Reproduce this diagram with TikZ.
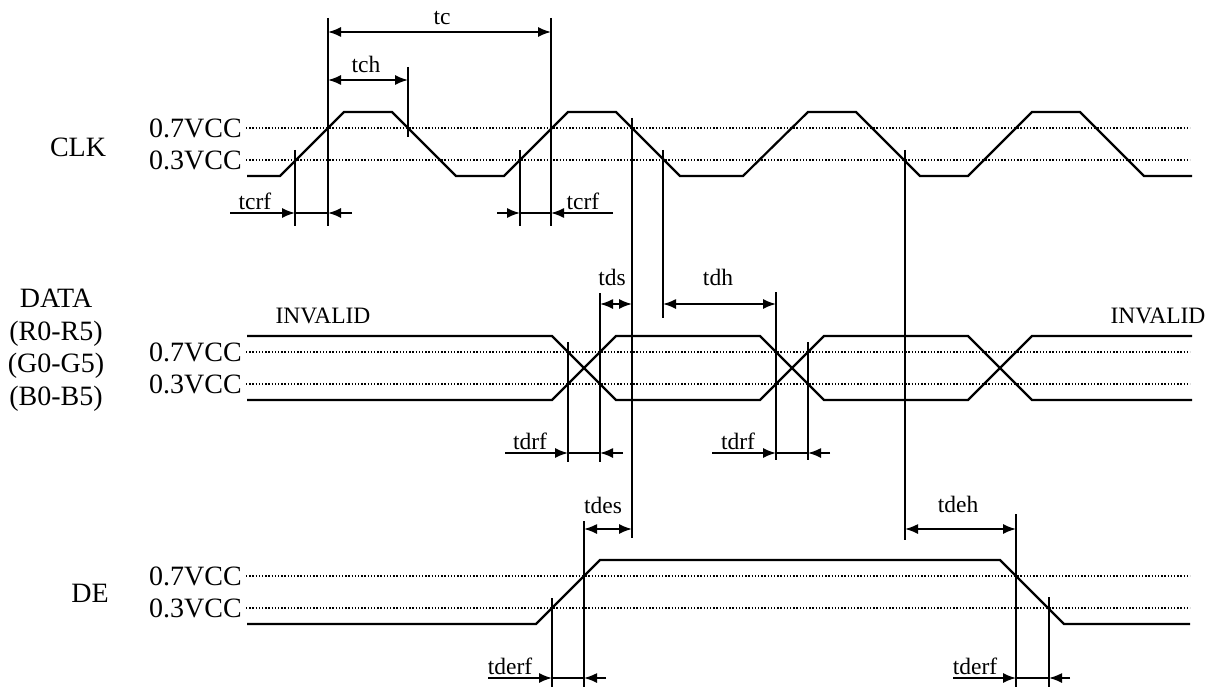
\documentclass[tikz,border=0pt]{standalone}
\usepackage{fontspec}
\setmainfont{Liberation Serif}
\usetikzlibrary{arrows.meta}
\begin{document}
\begin{tikzpicture}[x=1pt, y=-1pt,
    wave/.style={line width=2.2pt},
    guide/.style={line width=2pt},
    level/.style={line width=1.4pt, dash pattern=on 1.4pt off 1.8pt},
    tip/.style={line width=1.6pt, -{Latex[length=13pt,width=10pt]}},
    both/.style={line width=1.6pt, {Latex[length=13pt,width=10pt]}-{Latex[length=13pt,width=10pt]}},
    big/.style={font=\fontsize{28}{32.5}\selectfont, inner sep=0pt},
    small/.style={font=\fontsize{23.5}{28}\selectfont, inner sep=0pt}]
    \useasboundingbox (0,0) rectangle (1217,687);
    \foreach \y/\lv [count=\i] in {128/0.7VCC, 160/0.3VCC, 352/0.7VCC, 384/0.3VCC, 576/0.7VCC, 608/0.3VCC}
    {\node[big, anchor=east] (lv\i) at (242,\y) {\lv};
    \draw[level] (246,\y) -- (1190,\y);}
    \node[big] (clk) at (78,147) {CLK};
    \node[big, align=center] (data) at (56,350) {DATA\\(R0-R5)\\(G0-G5)\\(B0-B5)};
    \node[big] (de) at (90,593) {DE};
    \draw[wave] (247,176) -- (280,176) -- (344,112) -- (392,112) -- (456,176) -- (504,176) -- (568,112) -- (616,112) -- (680,176) -- (743,176) -- (808,112) -- (856,112) -- (920,176) -- (968,176) -- (1032,112) -- (1080,112) -- (1144,176) -- (1192,176);
    \draw[wave] (247,336) -- (552,336) -- (616,400) -- (760,400) -- (824,336) -- (968,336) -- (1032,400) -- (1192,400);
    \draw[wave] (247,400) -- (552,400) -- (616,336) -- (760,336) -- (824,400) -- (968,400) -- (1032,336) -- (1192,336);
    \draw[wave] (247,624) -- (536,624) -- (600,560) -- (1000,560) -- (1064,624) -- (1190,624);
    \node[small] (inv1) at (323,316) {INVALID};
    \node[small] (inv2) at (1158,316) {INVALID};
    \foreach \x/\a/\b in {295/150/226, 328/18/226, 408/67/137, 520/150/226, 551/18/226, 632/118/538, 663/150/318, 568/342/462, 600/293/462, 776/292/460, 808/342/460, 552/598/687, 584/521/687, 905/150/540, 1016/514/687, 1049/597/687}
    \draw[guide] (\x,\a) -- (\x,\b);
    \foreach \a/\b/\y in {328/551/32, 328/408/80, 600/632/304, 663/776/304, 584/632/529, 905/1016/529}
    \draw[both] (\a,\y) -- (\b,\y);
    \foreach \s/\a/\b/\e/\y in {230/295/328/352/213, 497/520/551/613/213, 505/568/600/623/453, 712/776/808/830/453, 488/552/584/606/678, 953/1016/1049/1070/678}
    {\draw[tip] (\s,\y) -- (\a,\y);
    \draw[tip] (\e,\y) -- (\b,\y);
    \draw[line width=1.6pt] (\a,\y) -- (\b,\y);}
    \node[small] (tc) at (442,18) {tc};
    \node[small] (tch) at (366,64) {tch};
    \node[small] (tcrf1) at (255,201) {tcrf};
    \node[small] (tcrf2) at (583,201) {tcrf};
    \node[small] (tds) at (612,277) {tds};
    \node[small] (tdh) at (718,277) {tdh};
    \node[small] (tdrf1) at (530,441) {tdrf};
    \node[small] (tdrf2) at (738,441) {tdrf};
    \node[small] (tdes) at (603,505) {tdes};
    \node[small] (tdeh) at (958,504) {tdeh};
    \node[small] (tderf1) at (510,666) {tderf};
    \node[small] (tderf2) at (975,666) {tderf};
\end{tikzpicture}
\end{document}
